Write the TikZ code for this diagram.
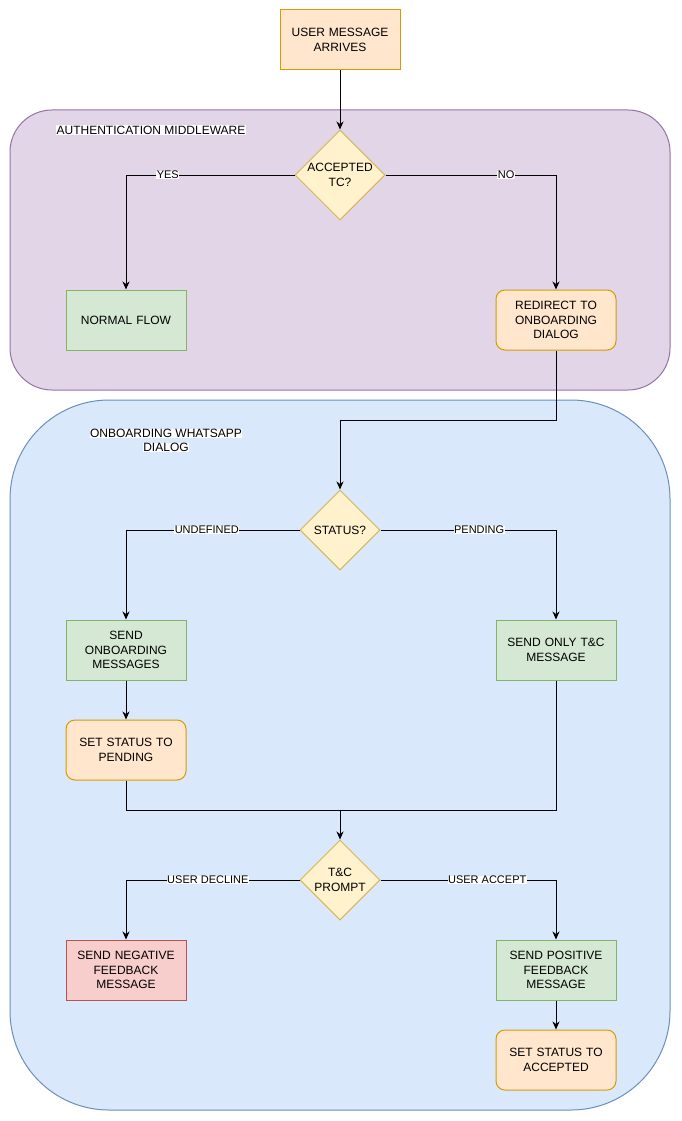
\documentclass[tikz,border=0pt]{standalone}
\usepackage{fontspec}
\setmainfont{Liberation Sans}
\usetikzlibrary{shapes.geometric,arrows.meta,calc}
\definecolor{orF}{HTML}{FFE6CC}\definecolor{orD}{HTML}{D79B00}
\definecolor{yeF}{HTML}{FFF2CC}\definecolor{yeD}{HTML}{D6B656}
\definecolor{grF}{HTML}{D5E8D4}\definecolor{grD}{HTML}{82B366}
\definecolor{reF}{HTML}{F8CECC}\definecolor{reD}{HTML}{B85450}
\definecolor{puF}{HTML}{E1D5E7}\definecolor{puD}{HTML}{9673A6}
\definecolor{blF}{HTML}{DAE8FC}\definecolor{blD}{HTML}{6C8EBF}
\begin{document}
\begin{tikzpicture}[x=1pt,y=-1pt,
  base/.style={line width=1pt,minimum width=120pt,minimum height=60pt,inner sep=0pt,
    align=center,text width=112pt,font=\fontsize{12}{14.4}\selectfont},
  obox/.style={base,fill=orF,draw=orD},
  orbox/.style={base,fill=orF,draw=orD,rounded corners=9pt},
  gbox/.style={base,fill=grF,draw=grD},
  rbox/.style={base,fill=reF,draw=reD},
  dia/.style={diamond,shape aspect=1,fill=yeF,draw=yeD,line width=1pt,inner sep=0pt,
    align=center,font=\fontsize{12}{14.4}\selectfont},
  cont/.style={line width=1pt,inner sep=0pt,minimum width=660pt},
  clbl/.style={fill=white,inner sep=0.5pt,font=\fontsize{12}{14.4}\selectfont},
  lbl/.style={fill=white,inner sep=0.5pt,font=\fontsize{11}{13}\selectfont},
  arr/.style={line width=1pt,-{Stealth[length=8pt,width=7pt,inset=2.5pt]}},
  ln/.style={line width=1pt}]
\useasboundingbox (0,0) rectangle (681,1121);
% containers
\node[cont,fill=puF,draw=puD,rounded corners=42pt,minimum height=280pt] (auth) at (340,250) {};
\node[cont,fill=blF,draw=blD,rounded corners=99pt,minimum height=710pt] (onb) at (340,755) {};
\node[clbl] (authlbl) at (151,130) {AUTHENTICATION MIDDLEWARE};
\node[clbl] (onblbla) at (166,433.5) {ONBOARDING WHATSAPP};
\node[clbl] (onblblb) at (166,447.5) {DIALOG};
% nodes
\node[obox] (start) at (340,40) {USER MESSAGE\\ARRIVES};
\node[dia,minimum width=90pt,minimum height=90pt] (tc) at (340,175) {ACCEPTED\\TC?};
\node[gbox] (normal) at (126,320) {NORMAL FLOW};
\node[orbox] (redir) at (556,320) {REDIRECT TO\\ONBOARDING\\DIALOG};
\node[dia,minimum width=80pt,minimum height=80pt] (status) at (340,530) {STATUS?};
\node[gbox] (sendonb) at (126,650) {SEND\\ONBOARDING\\MESSAGES};
\node[gbox] (sendtc) at (556,650) {SEND ONLY T\&C\\MESSAGE};
\node[orbox] (setpend) at (126,750) {SET STATUS TO\\PENDING};
\coordinate (merge) at (340,810);
\node[dia,minimum width=80pt,minimum height=80pt] (tcp) at (340,880) {T\&C\\PROMPT};
\node[rbox] (neg) at (126,970) {SEND NEGATIVE\\FEEDBACK\\MESSAGE};
\node[gbox] (posi) at (556,970) {SEND POSITIVE\\FEEDBACK\\MESSAGE};
\node[orbox] (setacc) at (556,1060) {SET STATUS TO\\ACCEPTED};
% connectors
\draw[arr] (start) -- (tc);
\draw[arr] (tc.west) -| (normal.north) node[lbl,pos=0.376] {YES};
\draw[arr] (tc.east) -| (redir.north) node[lbl,pos=0.354] {NO};
\draw[arr] (redir.south) -- ++(0,70) -| (status.north);
\draw[arr] (status.west) -| (sendonb.north) node[lbl,pos=0.267] {UNDEFINED};
\draw[arr] (status.east) -| (sendtc.north) node[lbl,pos=0.281] {PENDING};
\draw[arr] (sendonb) -- (setpend);
\draw[ln] (setpend.south) |- (merge);
\draw[ln] (sendtc.south) |- (merge);
\draw[arr] (merge) -- (tcp.north);
\draw[arr] (tcp.west) -| (neg.north) node[lbl,pos=0.264] {USER DECLINE};
\draw[arr] (tcp.east) -| (posi.north) node[lbl,pos=0.304] {USER ACCEPT};
\draw[arr] (posi) -- (setacc);
\end{tikzpicture}
\end{document}
